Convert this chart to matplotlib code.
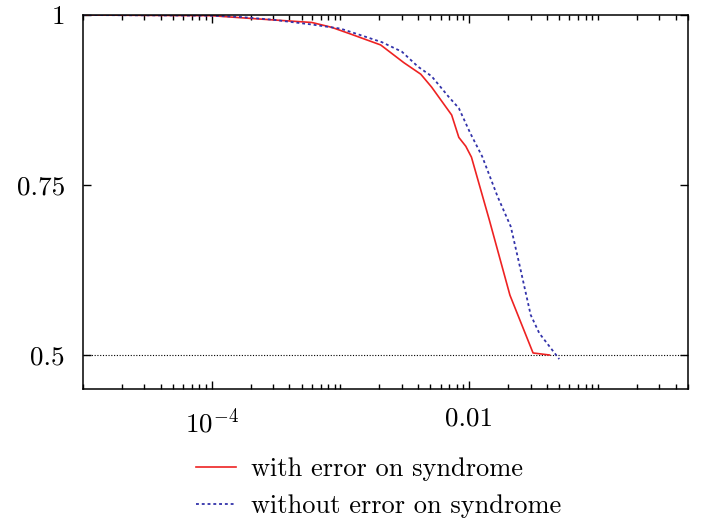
import numpy as np
import matplotlib
matplotlib.use('Agg')
import matplotlib.pyplot as plt
from matplotlib.ticker import FixedLocator, NullFormatter

plt.rcParams['font.family'] = 'serif'
plt.rcParams['font.serif'] = ['cmr10']
plt.rcParams['mathtext.fontset'] = 'cm'
plt.rcParams['axes.unicode_minus'] = False

# curve
p_with = [1e-5, 1e-4, 2e-4, 6e-4, 8.5e-4, 1.2e-3, 2.05e-3, 3.1e-3, 4.2e-3, 5.1e-3,
          7.3e-3, 8.3e-3, 9.4e-3, 1.04e-2, 1.43e-2, 2.07e-2, 3.13e-2, 4.2e-2]
r_with = [1.0, 0.999, 0.995, 0.989, 0.982, 0.972, 0.956, 0.930, 0.913, 0.894,
          0.853, 0.820, 0.807, 0.791, 0.699, 0.588, 0.503, 0.500]

p_without = [1e-5, 1e-4, 1.7e-4, 3e-4, 6e-4, 1e-3, 1.35e-3, 2.1e-3, 3.0e-3, 4.0e-3,
             5.1e-3, 6.9e-3, 8.3e-3, 1.02e-2, 1.26e-2, 1.66e-2, 2.1e-2, 2.44e-2,
             3.0e-2, 3.5e-2, 5.0e-2]
r_without = [1.0, 0.999, 0.997, 0.993, 0.986, 0.980, 0.972, 0.960, 0.946, 0.924,
             0.910, 0.880, 0.863, 0.826, 0.792, 0.733, 0.689, 0.635,
             0.559, 0.532, 0.494]

x_range = [1e-5, 0.5]
y_range = [0.45, 1.0]
x_major = [1e-4, 1e-2]
x_major_labels = ['$10^{-4}$', '0.01']
y_major = [0.5, 0.75, 1.0]
y_major_labels = ['0.5', '0.75', '1']
level = 0.5

fig = plt.figure(figsize=(7.1, 5.23), dpi=100)
ax = fig.add_axes([0.1169, 0.2562, 0.8521, 0.7151])

ax.plot(x_range, [level, level], color='black', lw=0.8, ls=(0, (1, 1.5)))
ax.plot(p_with, r_with, color='#ee2222', lw=1.2, label='with error on syndrome')
ax.plot(p_without, r_without, color='#3333aa', lw=1.3, ls=(0, (1.6, 1.6)),
        label='without error on syndrome')

ax.set_xscale('log')
ax.set_xlim(x_range)
ax.set_ylim(y_range)

ax.xaxis.set_major_locator(FixedLocator(x_major))
ax.set_xticklabels(x_major_labels)
minors = [m * 10.0 ** e for e in range(-5, 0) for m in range(1, 10)]
minors = [v for v in minors if v not in x_major and v <= 0.5]
ax.xaxis.set_minor_locator(FixedLocator(minors))
ax.xaxis.set_minor_formatter(NullFormatter())
ax.set_yticks(y_major)
ax.set_yticklabels(y_major_labels)
ax.yaxis.set_minor_locator(FixedLocator([]))

ax.tick_params(which='both', direction='in', top=True, right=True, labelsize=19.5)
ax.tick_params(which='major', length=6, width=1)
ax.tick_params(which='minor', length=3.6, width=1)
ax.tick_params(axis='x', pad=13)
ax.tick_params(axis='y', pad=13)
for s in ax.spines.values():
    s.set_linewidth(1.1)

ax.legend(loc='upper left', bbox_to_anchor=(0.17, -0.155), frameon=False,
          fontsize=19, handlelength=1.5, handletextpad=0.55, labelspacing=0.5,
          borderaxespad=0)

plt.savefig('out.png')
